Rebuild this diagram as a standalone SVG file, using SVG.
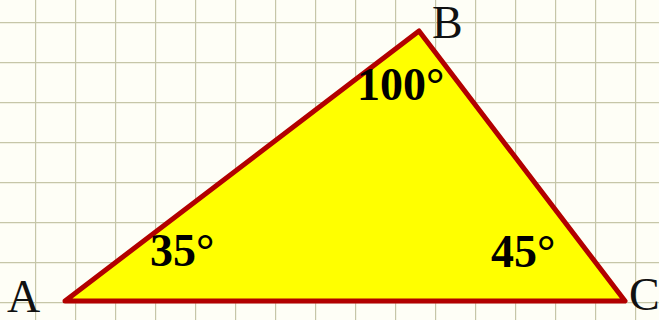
<svg xmlns="http://www.w3.org/2000/svg" width="659" height="320" viewBox="0 0 659 320">
  <defs>
    <pattern id="grid" x="0" y="0" width="40" height="40" patternUnits="userSpaceOnUse" patternTransform="translate(35 22)">
      <path d="M0 0 V40 M0 0 H40" fill="none" stroke="#c6c6a8" stroke-width="2.4"/>
    </pattern>
  </defs>
  <style>
    .lbl { font-family: "Liberation Serif", "Times New Roman", serif; font-size: 46px; fill: #111; }
    .ang { font-family: "Liberation Serif", "Times New Roman", serif; font-size: 46px; font-weight: bold; fill: #000; }
  </style>
  <rect x="0" y="0" width="659" height="320" fill="#fefef6"/>
  <rect x="0" y="0" width="659" height="320" fill="url(#grid)"/>
  <g id="triangle">
    <polygon points="65,301 419,31 625,301" fill="#ffff00" stroke="#b20000" stroke-width="5" stroke-linejoin="round"/>
  </g>
  <g id="labels">
    <text class="lbl" x="7" y="312">A</text>
    <text class="lbl" x="432" y="38">B</text>
    <text class="lbl" x="629" y="310">C</text>
  </g>
  <g id="angles">
    <text class="ang" x="357" y="100">100°</text>
    <text class="ang" x="150" y="266">35°</text>
    <text class="ang" x="491" y="267">45°</text>
  </g>
</svg>
